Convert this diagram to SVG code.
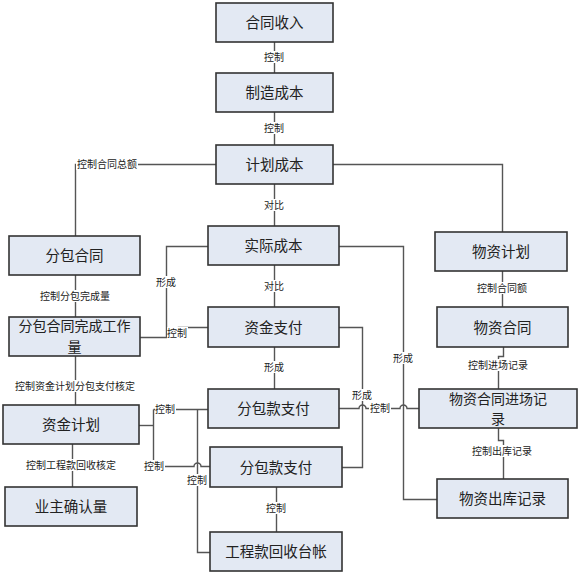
<svg xmlns="http://www.w3.org/2000/svg" width="580" height="576" viewBox="0 0 580 576">
<style>
.box{fill:#E3E9F3;stroke:#333;stroke-width:1.6}
.nt{font-family:"Noto Sans CJK SC","Liberation Sans",sans-serif;font-size:14.5px;fill:#222;text-anchor:middle}
.nt2{font-family:"Noto Sans CJK SC","Liberation Sans",sans-serif;font-size:14px;fill:#222;text-anchor:middle}
.ln{fill:none;stroke:#555;stroke-width:1.4}
.lb{font-family:"Noto Sans CJK SC","Liberation Sans",sans-serif;font-size:10px;fill:#222;text-anchor:middle}
.bg{fill:#fff}
</style>
<rect width="580" height="576" fill="#fff"/>
<g id="connectors">
<path class="ln" d="M274.5 42 V73"/>
<path class="ln" d="M274.5 112 V145"/>
<path class="ln" d="M274.5 184 V226"/>
<path class="ln" d="M216 164.5 H75.5 V236"/>
<path class="ln" d="M333 164.5 H502.5 V232"/>
<path class="ln" d="M274.5 265 V307"/>
<path class="ln" d="M75.5 275 V317"/>
<path class="ln" d="M208 246.5 H166.5 V337.5"/>
<path class="ln" d="M208 327.5 H178.5 V337.5 H140"/>
<path class="ln" d="M274.5 347 V389"/>
<path class="ln" d="M339 327.5 H362.5 V467.5 H342"/>
<path class="ln" d="M339 246.5 H403.5 V499.5 H437"/>
<path class="ln" d="M339 408.5 H359 A3.5 3.5 0 0 1 366 408.5 H400 A3.5 3.5 0 0 1 407 408.5 H419"/>
<path class="ln" d="M502.5 271 V307"/>
<path class="ln" d="M503.5 347 V356.5 H498.5 V389"/>
<path class="ln" d="M498.5 428 V440.5 H503.5 V479"/>
<path class="ln" d="M75.5 356 V405"/>
<path class="ln" d="M72.5 444 V487"/>
<path class="ln" d="M139 425.5 H153.5"/>
<path class="ln" d="M153.5 409.5 V466.5"/>
<path class="ln" d="M153.5 409.5 H208"/>
<path class="ln" d="M153.5 466.5 H194 A3.5 3.5 0 0 1 201 466.5 H210"/>
<path class="ln" d="M197.5 409.5 V552.5 H210"/>
<path class="ln" d="M276.5 487 V532"/>
</g>
<g id="labels">
<rect class="bg" x="263" y="51" width="22" height="12"/><text class="lb" x="274" y="61">控制</text>
<rect class="bg" x="263" y="122" width="22" height="12"/><text class="lb" x="274" y="132">控制</text>
<rect class="bg" x="76" y="158" width="62" height="12"/><text class="lb" x="107" y="168">控制合同总额</text>
<rect class="bg" x="263" y="199" width="22" height="12"/><text class="lb" x="274" y="209">对比</text>
<rect class="bg" x="263" y="280" width="22" height="12"/><text class="lb" x="274" y="290">对比</text>
<rect class="bg" x="39" y="290" width="72" height="12"/><text class="lb" x="75" y="300">控制分包完成量</text>
<rect class="bg" x="155" y="276" width="22" height="12"/><text class="lb" x="166" y="286">形成</text>
<rect class="bg" x="167" y="327" width="21" height="12"/><text class="lb" x="177" y="337">控制</text>
<rect class="bg" x="263" y="361" width="22" height="12"/><text class="lb" x="274" y="371">形成</text>
<rect class="bg" x="351" y="389" width="22" height="12"/><text class="lb" x="362" y="399">形成</text>
<rect class="bg" x="369" y="402" width="22" height="12"/><text class="lb" x="380" y="412">控制</text>
<rect class="bg" x="392" y="352" width="22" height="12"/><text class="lb" x="403" y="362">形成</text>
<rect class="bg" x="476" y="282" width="52" height="12"/><text class="lb" x="502" y="292">控制合同额</text>
<rect class="bg" x="467" y="359" width="62" height="12"/><text class="lb" x="498" y="369">控制进场记录</text>
<rect class="bg" x="471" y="445" width="62" height="12"/><text class="lb" x="502" y="455">控制出库记录</text>
<rect class="bg" x="14" y="380" width="122" height="12"/><text class="lb" x="75" y="390">控制资金计划分包支付核定</text>
<rect class="bg" x="25" y="459" width="92" height="12"/><text class="lb" x="71" y="469">控制工程款回收核定</text>
<rect class="bg" x="155" y="403" width="21" height="12"/><text class="lb" x="165" y="413">控制</text>
<rect class="bg" x="143" y="460" width="22" height="12"/><text class="lb" x="154" y="470">控制</text>
<rect class="bg" x="186" y="474" width="22" height="12"/><text class="lb" x="197" y="484">控制</text>
<rect class="bg" x="265" y="502" width="22" height="12"/><text class="lb" x="276" y="512">控制</text>
</g>
<g id="n1"><rect class="box" x="216" y="3" width="117" height="39"/><text class="nt" x="274.5" y="28">合同收入</text></g>
<g id="n2"><rect class="box" x="216" y="73" width="117" height="39"/><text class="nt" x="274.5" y="98">制造成本</text></g>
<g id="n3"><rect class="box" x="216" y="145" width="117" height="39"/><text class="nt" x="274.5" y="170">计划成本</text></g>
<g id="n4"><rect class="box" x="9" y="236" width="131" height="39"/><text class="nt" x="74.5" y="261">分包合同</text></g>
<g id="n5"><rect class="box" x="208" y="226" width="131" height="39"/><text class="nt" x="273.5" y="251">实际成本</text></g>
<g id="n6"><rect class="box" x="435" y="232" width="132" height="39"/><text class="nt" x="501" y="257">物资计划</text></g>
<g id="n7"><rect class="box" x="9" y="317" width="131" height="39"/><text class="nt2" x="74.5" y="331.3">分包合同完成工作</text><text class="nt2" x="74.5" y="351.8">量</text></g>
<g id="n8"><rect class="box" x="208" y="307" width="131" height="40"/><text class="nt" x="273.5" y="332.5">资金支付</text></g>
<g id="n9"><rect class="box" x="437" y="307" width="131" height="40"/><text class="nt" x="502.5" y="332.5">物资合同</text></g>
<g id="n10"><rect class="box" x="3" y="405" width="136" height="39"/><text class="nt" x="71" y="430">资金计划</text></g>
<g id="n11"><rect class="box" x="208" y="389" width="131" height="39"/><text class="nt" x="273.5" y="414">分包款支付</text></g>
<g id="n12"><rect class="box" x="419" y="389" width="158" height="39"/><text class="nt2" x="498" y="403.8">物资合同进场记</text><text class="nt2" x="498" y="424.3">录</text></g>
<g id="n13"><rect class="box" x="210" y="447" width="132" height="40"/><text class="nt" x="276" y="472.5">分包款支付</text></g>
<g id="n14"><rect class="box" x="437" y="479" width="131" height="39"/><text class="nt" x="502.5" y="504">物资出库记录</text></g>
<g id="n15"><rect class="box" x="5" y="487" width="132" height="39"/><text class="nt" x="71" y="512">业主确认量</text></g>
<g id="n16"><rect class="box" x="210" y="532" width="132" height="39"/><text class="nt" x="276" y="557">工程款回收台帐</text></g>
</svg>
